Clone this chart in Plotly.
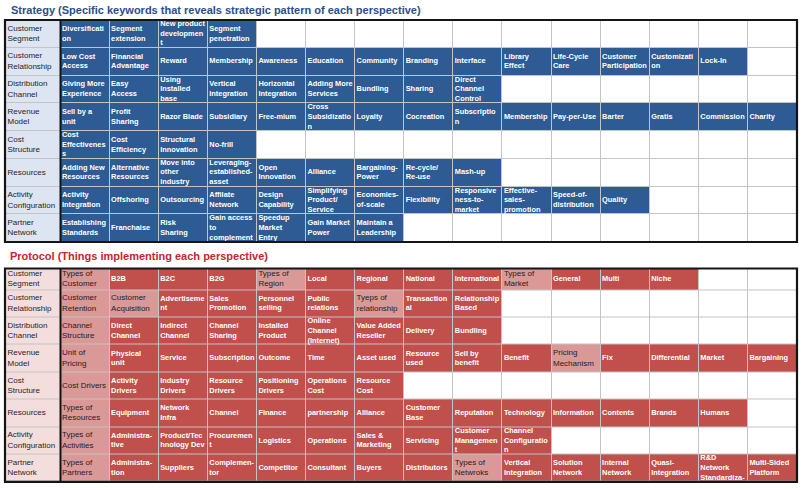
import plotly.graph_objects as go

# ---------------- data ----------------
row_labels = ["Customer<br>Segment", "Customer<br>Relationship", "Distribution<br>Channel",
              "Revenue<br>Model", "Cost<br>Structure", "Resources",
              "Activity<br>Configuration", "Partner<br>Network"]

strategy_title = "Strategy (Specific keywords that reveals strategic pattern of each perspective)"
protocol_title = "Protocol (Things implementing each perspective)"

strategy_customer_segment = ["Diversificati<br>on", "Segment<br>extension", "New product<br>developmen<br>t",
                             "Segment<br>penetration"]
strategy_customer_relationship = ["Low Cost<br>Access", "Financial<br>Advantage", "Reward", "Membership",
                                  "Awareness", "Education", "Community", "Branding", "Interface",
                                  "Library<br>Effect", "Life-Cycle<br>Care", "Customer<br>Participation",
                                  "Customizati<br>on", "Lock-In"]
strategy_distribution_channel = ["Giving More<br>Experience", "Easy<br>Access", "Using<br>Installed<br>base",
                                 "Vertical<br>Integration", "Horizontal<br>Integration", "Adding More<br>Services",
                                 "Bundling", "Sharing", "Direct<br>Channel<br>Control"]
strategy_revenue_model = ["Sell by a<br>unit", "Profit<br>Sharing", "Razor Blade", "Subsidiary", "Free-mium",
                          "Cross<br>Subsidizatio<br>n", "Loyalty", "Cocreation", "Subscriptio<br>n",
                          "Membership", "Pay-per-Use", "Barter", "Gratis", "Commission", "Charity"]
strategy_cost_structure = ["Cost<br>Effectivenes<br>s", "Cost<br>Efficiency", "Structural<br>Innovation", "No-frill"]
strategy_resources = ["Adding New<br>Resources", "Alternative<br>Resources", "Move into<br>other<br>industry",
                      "Leveraging-<br>established-<br>asset", "Open<br>Innovation", "Alliance",
                      "Bargaining-<br>Power", "Re-cycle/<br>Re-use", "Mash-up"]
strategy_activity_configuration = ["Activity<br>Integration", "Offshoring", "Outsourcing", "Affilate<br>Network",
                                   "Design<br>Capability", "Simplifying<br>Product/<br>Service",
                                   "Economies-<br>of-scale", "Flexibility", "Responsive<br>ness-to-<br>market",
                                   "Effective-<br>sales-<br>promotion", "Speed-of-<br>distribution", "Quality"]
strategy_partner_network = ["Establishing<br>Standards", "Franchaise", "Risk<br>Sharing",
                            "Gain access<br>to<br>complement", "Speedup<br>Market<br>Entry",
                            "Gain Market<br>Power", "Maintain a<br>Leadership"]

protocol_customer_segment = ["Types of<br>Customer", "B2B", "B2C", "B2G", "Types of<br>Region", "Local",
                             "Regional", "National", "International", "Types of<br>Market", "General",
                             "Multi", "Niche"]
protocol_customer_relationship = ["Customer<br>Retention", "Customer<br>Acquisition", "Advertiseme<br>nt",
                                  "Sales<br>Promotion", "Personnel<br>selling", "Public<br>relations",
                                  "Tyeps of<br>relationship", "Transaction<br>al", "Relationship<br>Based"]
protocol_distribution_channel = ["Channel<br>Structure", "Direct<br>Channel", "Indirect<br>Channel",
                                 "Channel<br>Sharing", "Installed<br>Product", "Online<br>Channel<br>(Internet)",
                                 "Value Added<br>Reseller", "Delivery", "Bundling"]
protocol_revenue_model = ["Unit of<br>Pricing", "Physical<br>unit", "Service", "Subscription", "Outcome",
                          "Time", "Asset used", "Resource<br>used", "Sell by<br>benefit", "Benefit",
                          "Pricing<br>Mechanism", "Fix", "Differential", "Market", "Bargaining"]
protocol_cost_structure = ["Cost Drivers", "Activity<br>Drivers", "Industry<br>Drivers", "Resource<br>Drivers",
                           "Positioning<br>Drivers", "Operations<br>Cost", "Resource<br>Cost"]
protocol_resources = ["Types of<br>Resources", "Equipment", "Network<br>Infra", "Channel", "Finance",
                      "partnership", "Alliance", "Customer<br>Base", "Reputation", "Technology",
                      "Information", "Contents", "Brands", "Humans"]
protocol_activity_configuration = ["Types of<br>Activities", "Administra-<br>tive", "Product/Tec<br>hnology Dev",
                                   "Procuremen<br>t", "Logistics", "Operations", "Sales &<br>Marketing",
                                   "Servicing", "Customer<br>Managemen<br>t", "Channel<br>Configuratio<br>n"]
protocol_partner_network = ["Types of<br>Partners", "Administra-<br>tion", "Suppliers", "Complemen-<br>tor",
                            "Competitor", "Consultant", "Buyers", "Distributors", "Types of<br>Netwroks",
                            "Vertical<br>Integration", "Solution<br>Network", "Internal<br>Network",
                            "Quasi-<br>Integration", "R&D<br>Network<br>Standardiza-", "Multi-Sided<br>Platform"]

# column indices of the lighter "category" cells in the protocol table
protocol_header_cols = [[0, 4, 9], [0, 1, 6], [0], [0, 10], [0], [0], [0], [0, 8]]

strategy_rows = [strategy_customer_segment, strategy_customer_relationship, strategy_distribution_channel,
                 strategy_revenue_model, strategy_cost_structure, strategy_resources,
                 strategy_activity_configuration, strategy_partner_network]
protocol_rows = [protocol_customer_segment, protocol_customer_relationship, protocol_distribution_channel,
                 protocol_revenue_model, protocol_cost_structure, protocol_resources,
                 protocol_activity_configuration, protocol_partner_network]

# ---------------- layout constants ----------------
W, H = 805, 490
N_COLS = 15
X0, LABEL_W, X1 = 5, 55.5, 797
COL_W = (X1 - X0 - LABEL_W) / N_COLS
x_edges = [X0, X0 + LABEL_W] + [X0 + LABEL_W + COL_W * (k + 1) for k in range(N_COLS)]

TOP_Y0, TOP_ROW_H = 20, 27.75
top_heights = [TOP_ROW_H] * 8
BOT_Y0 = 268.5
bot_heights = [21.5] + [27.4] * 7


def edges_from(y0, heights):
    out = [y0]
    for h in heights:
        out.append(out[-1] + h)
    return out


FONT = "Arial, Liberation Sans, sans-serif"
GRID = "#C4C4C4"

strategy_colors = ["#FFFFFF", "#DCE5F1", "#2E5B93", "#2E5B93"]
protocol_colors = ["#FFFFFF", "#F4DEDD", "#C14F4C", "#DA9897"]


def colorscale(cols):
    return [[0, cols[0]], [1 / 6, cols[0]], [1 / 6, cols[1]], [0.5, cols[1]],
            [0.5, cols[2]], [5 / 6, cols[2]], [5 / 6, cols[3]], [1, cols[3]]]


fig = go.Figure()
shapes = []


def add_table(rows, y_edges, cols, header_cols=None):
    z = []
    wx, wy, wt = [], [], []
    dx, dy, dt = [], [], []
    for r, items in enumerate(rows):
        yc = (y_edges[r] + y_edges[r + 1]) / 2
        zrow = [1]
        dx.append(x_edges[0] + 2.5)
        dy.append(yc)
        dt.append(row_labels[r])
        for c in range(N_COLS):
            if c < len(items):
                is_head = header_cols is not None and c in header_cols[r]
                zrow.append(3 if is_head else 2)
                xl = x_edges[c + 1] + 1.5
                if is_head:
                    dx.append(xl); dy.append(yc); dt.append(items[c])
                else:
                    wx.append(xl); wy.append(yc); wt.append("<b>" + items[c] + "</b>")
            else:
                zrow.append(0)
        z.append(zrow)
    # grid background
    shapes.append(dict(type="rect", xref="x", yref="y", x0=x_edges[0], x1=x_edges[-1],
                       y0=y_edges[0], y1=y_edges[-1], fillcolor=GRID, line_width=0, layer="below"))
    fig.add_trace(go.Heatmap(z=z, x=x_edges, y=y_edges, zmin=0, zmax=3,
                             colorscale=colorscale(cols), showscale=False,
                             xgap=1, ygap=1, hoverinfo="skip"))
    fig.add_trace(go.Scatter(x=wx, y=wy, text=wt, mode="text", textposition="middle right",
                             textfont=dict(family=FONT, size=7.4, color="white"),
                             hoverinfo="skip", showlegend=False, cliponaxis=False))
    fig.add_trace(go.Scatter(x=dx, y=dy, text=dt, mode="text", textposition="middle right",
                             textfont=dict(family=FONT, size=8, color="#1E1E1E"),
                             hoverinfo="skip", showlegend=False, cliponaxis=False))
    # outer border and label separator
    shapes.append(dict(type="rect", xref="x", yref="y", x0=x_edges[0], x1=x_edges[-1],
                       y0=y_edges[0], y1=y_edges[-1], line=dict(color="#151515", width=2.2),
                       fillcolor="rgba(0,0,0,0)", layer="above"))
    shapes.append(dict(type="line", xref="x", yref="y", x0=x_edges[1], x1=x_edges[1],
                       y0=y_edges[0], y1=y_edges[-1], line=dict(color="#151515", width=2),
                       layer="above"))


add_table(strategy_rows, edges_from(TOP_Y0, top_heights), strategy_colors)
add_table(protocol_rows, edges_from(BOT_Y0, bot_heights), protocol_colors, protocol_header_cols)

annotations = [
    dict(x=9, y=10, xref="x", yref="y", text="<b>" + strategy_title + "</b>", showarrow=False,
         xanchor="left", yanchor="middle", font=dict(family=FONT, size=11, color="#2C4E8C")),
    dict(x=8, y=256, xref="x", yref="y", text="<b>" + protocol_title + "</b>", showarrow=False,
         xanchor="left", yanchor="middle", font=dict(family=FONT, size=11, color="#C2272D")),
]

fig.update_layout(
    width=W, height=H, margin=dict(l=0, r=0, t=0, b=0),
    paper_bgcolor="white", plot_bgcolor="white",
    xaxis=dict(range=[0, W], visible=False, fixedrange=True),
    yaxis=dict(range=[H, 0], visible=False, fixedrange=True),
    shapes=shapes, annotations=annotations, showlegend=False,
)

fig.write_html("out.html", config={"displayModeBar": False},
               post_script="document.body.style.margin='0';document.body.style.overflow='hidden';")
